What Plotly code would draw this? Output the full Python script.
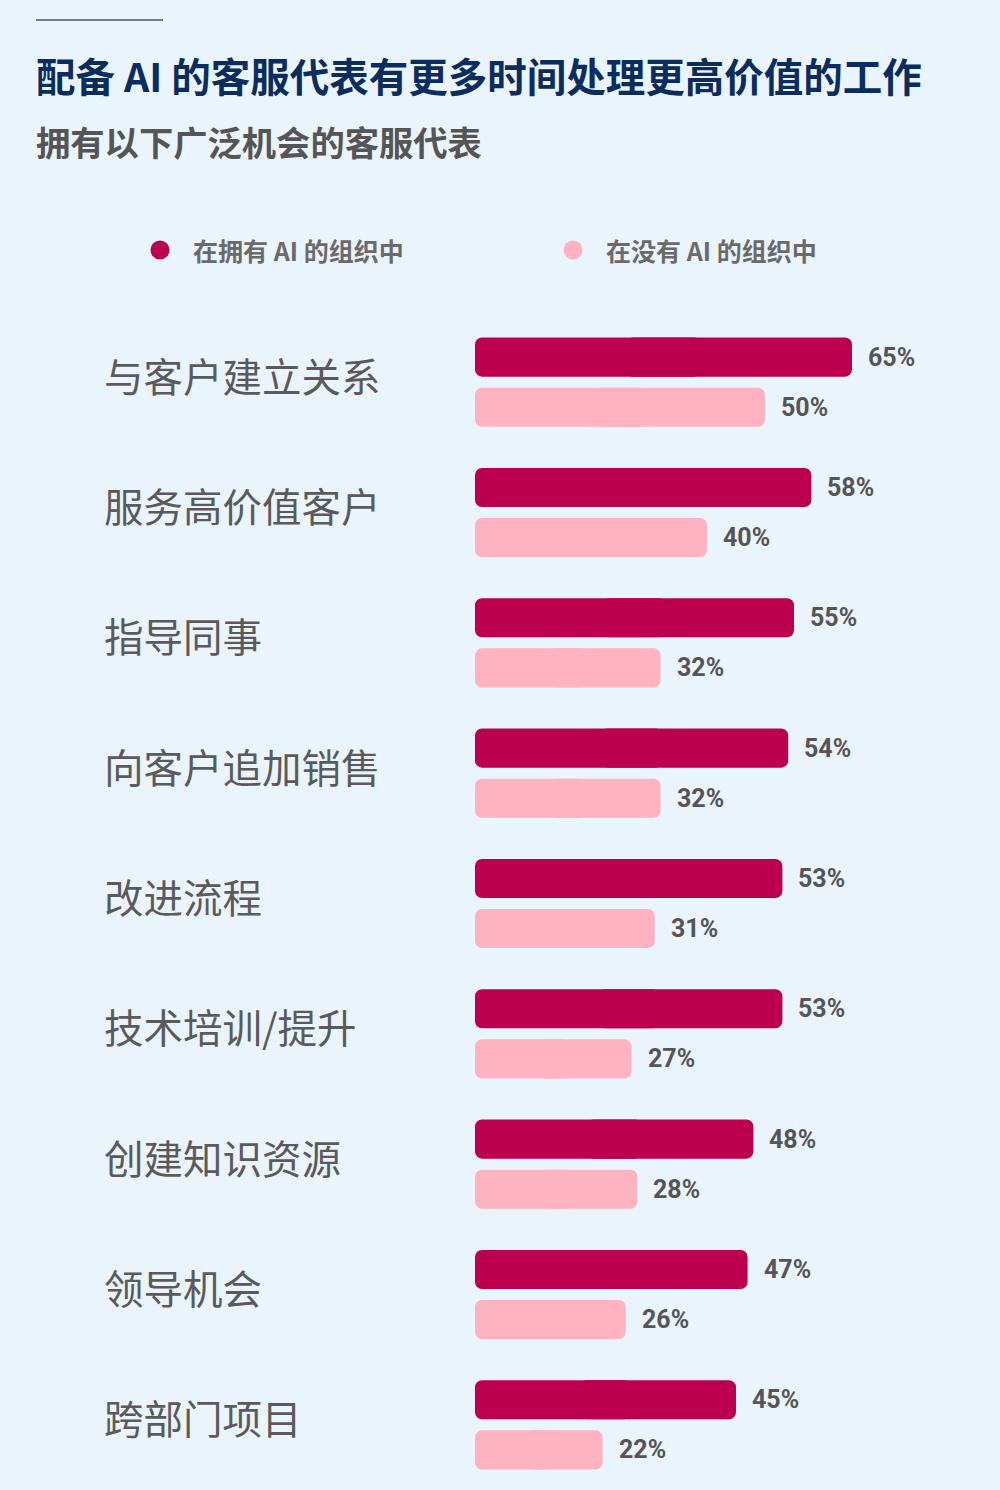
import plotly.graph_objects as go

categories = ["与客户建立关系", "服务高价值客户", "指导同事", "向客户追加销售", "改进流程",
              "技术培训/提升", "创建知识资源", "领导机会", "跨部门项目"]
with_ai = [65, 58, 55, 54, 53, 53, 48, 47, 45]
without_ai = [50, 40, 32, 32, 31, 27, 28, 26, 22]
series_names = ["在拥有 AI 的组织中", "在没有 AI 的组织中"]

DARK = "#BC004F"
LIGHT = "#FFB3C1"
BG = "#EAF4FD"
CJK = "Noto Sans CJK SC"

W, H = 1000, 1490
L, R, T, B = 475, 3, 317, 0
pw = W - L - R
ph = H - T - B


def px_x(x):
    return (x - L) / pw


def px_y(y):
    return 1 - (y - T) / ph


fig = go.Figure()
# each bar is drawn as two overlapping pieces so both ends get rounded corners
for vals, col, grp, name in [(with_ai, DARK, "a", series_names[0]), (without_ai, LIGHT, "b", series_names[1])]:
    fig.add_trace(go.Bar(y=categories, x=[v * 0.6 for v in vals], base=[v * 0.4 for v in vals],
                         orientation="h", marker=dict(color=col, line_width=0), name=name,
                         offsetgroup=grp, showlegend=False, hoverinfo="skip"))
    fig.add_trace(go.Bar(y=categories, x=[-v * 0.6 for v in vals], base=[v * 0.6 for v in vals],
                         orientation="h", marker=dict(color=col, line_width=0), name=name,
                         offsetgroup=grp, showlegend=False, hoverinfo="skip"))

# value labels
for cat, a, b in zip(categories, with_ai, without_ai):
    fig.add_annotation(x=a, y=cat, text=f"{a}%", showarrow=False, xanchor="left",
                       xshift=14, yshift=25, font=dict(family="Roboto", size=25, color="#555555", weight="bold"))
    fig.add_annotation(x=b, y=cat, text=f"{b}%", showarrow=False, xanchor="left",
                       xshift=14, yshift=-25, font=dict(family="Roboto", size=25, color="#555555", weight="bold"))
    # category label, left aligned
    fig.add_annotation(x=px_x(102), xref="paper", y=cat, text=cat, showarrow=False,
                       xanchor="left", yshift=8, font=dict(family=CJK, size=39.5, color="#5A5A5A"))

# legend: dots and labels
for name, col, dot_x in zip(series_names, [DARK, LIGHT], [160, 573]):
    fig.add_shape(type="circle", xref="paper", yref="paper", xsizemode="pixel", ysizemode="pixel",
                  xanchor=px_x(dot_x), yanchor=px_y(250), x0=-9.5, x1=9.5, y0=-9.5, y1=9.5,
                  fillcolor=col, line_width=0)
    fig.add_annotation(x=px_x(dot_x + 31), xref="paper", y=px_y(250), yref="paper",
                       text=f"<b>{name}</b>", showarrow=False, xanchor="left", yanchor="middle",
                       font=dict(family=CJK, size=25, color="#6A6A6A"))

fig.add_annotation(x=px_x(34), xref="paper", y=px_y(74), yref="paper",
                   text="<b>配备 AI 的客服代表有更多时间处理更高价值的工作</b>", showarrow=False,
                   xanchor="left", yanchor="middle", font=dict(family=CJK, size=39.5, color="#0B2D5E"))
fig.add_annotation(x=px_x(34), xref="paper", y=px_y(141), yref="paper",
                   text="<b>拥有以下广泛机会的客服代表</b>", showarrow=False,
                   xanchor="left", yanchor="middle", font=dict(family=CJK, size=34.3, color="#555555"))

fig.add_shape(type="line", xref="paper", yref="paper", x0=px_x(36), x1=px_x(163),
              y0=px_y(20), y1=px_y(20), line=dict(color="#7A7A7A", width=2))

fig.update_layout(
    width=W, height=H,
    margin=dict(l=L, r=R, t=T, b=B),
    paper_bgcolor=BG, plot_bgcolor=BG,
    barmode="group", bargap=0.231, bargroupgap=0.22, barcornerradius=7,
    xaxis=dict(range=[0, 90], visible=False, fixedrange=True),
    yaxis=dict(autorange="reversed", showticklabels=False, showgrid=False,
               zeroline=False, showline=False, ticks="", fixedrange=True),
    showlegend=False,
)

fig.write_html("out.html", config={"displayModeBar": False},
               post_script="document.body.style.margin='0';document.body.style.background='#EAF4FD';")
